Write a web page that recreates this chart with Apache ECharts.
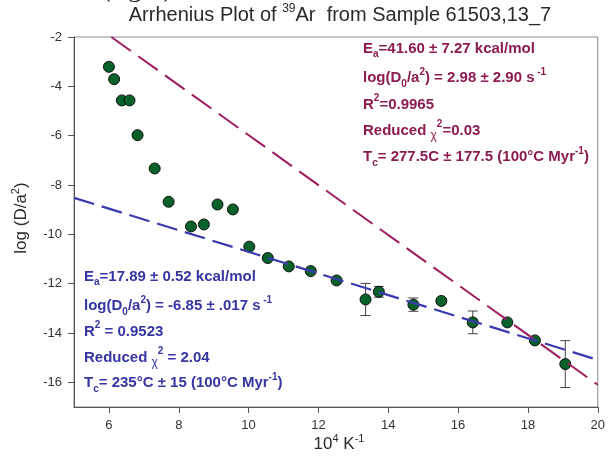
<!DOCTYPE html>
<html><head><meta charset="utf-8">
<script src="https://cdn.jsdelivr.net/npm/echarts@6/dist/echarts.min.js"></script>
<style>html,body{margin:0;padding:0;background:#fff}#c{width:608px;height:456px}</style>
</head><body><div id="c"></div>
<script>
// ---- data ----
const xValues = [6.00, 6.15, 6.37, 6.59, 6.82, 7.31, 7.71, 8.35, 8.72, 9.11, 9.55, 10.02, 10.55, 11.15, 11.78, 12.52, 13.35, 13.73, 14.72, 15.52, 16.42, 17.41, 18.20, 19.07];
const yValues = [-3.21, -3.71, -4.57, -4.57, -5.98, -7.33, -8.68, -9.68, -9.60, -8.79, -8.99, -10.50, -10.96, -11.30, -11.49, -11.87, -12.64, -12.33, -12.85, -12.70, -13.57, -13.57, -14.30, -15.26];
const yErrors = [0, 0, 0, 0, 0, 0, 0, 0, 0, 0, 0, 0, 0, 0, 0, 0, 0.65, 0.22, 0.27, 0.10, 0.46, 0, 0, 0.95];
const highTFitX = [6.07, 20];
const highTFitY = [-2, -16.1];
const lowTFitX = [5, 20];
const lowTFitY = [-8.52, -15.09];
const xTicks = [6, 8, 10, 12, 14, 16, 18, 20];
const yTicks = [-16, -14, -12, -10, -8, -6, -4, -2];
const titleParts = ['Arrhenius Plot of ', '39', 'Ar  from Sample 61503,13_7'];
const maroonLines = [
  '{m|E}{sub|a}{m|=41.60 ± 7.27 kcal/mol}',
  '{m|log(D}{sub|0}{m|/a}{sup|2}{m|) = 2.98 ± 2.90 s}{sup| -1}',
  '{m|R}{sup|2}{m|=0.9965}',
  '{m|Reduced }{chi|χ}{sup|2}{m|=0.03}',
  '{m|T}{sub|c}{m|= 277.5C ± 177.5 (100°C Myr}{sup|-1}{m|)}'
];
const blueLines = [
  '{m|E}{sub|a}{m|=17.89 ± 0.52 kcal/mol}',
  '{m|log(D}{sub|0}{m|/a}{sup|2}{m|) = -6.85 ± .017 s}{sup| -1}',
  '{m|R}{sup|2}{m| = 0.9523}',
  '{m|Reduced }{chi|χ}{sup|2}{m| = 2.04}',
  '{m|T}{sub|c}{m|= 235°C ± 15 (100°C Myr}{sup|-1}{m|)}'
];

// ---- styling ----
const FONT = 'Liberation Sans, Arial, sans-serif';
const MAROON_TXT = '#8C1B50', MAROON_LINE = '#9E1D5E';
const BLUE_TXT = '#3535A3', BLUE_LINE = '#3A3AB0';
const INK = '#2a2a2a';
function richFor(color) {
  return {
    m: {fontFamily: FONT, fontSize: 15, fontWeight: 'bold', fill: color, lineHeight: 22},
    sub: {fontFamily: FONT, fontSize: 10, fontWeight: 'bold', fill: color, lineHeight: 12, verticalAlign: 'bottom'},
    sup: {fontFamily: FONT, fontSize: 10, fontWeight: 'bold', fill: color, lineHeight: 12, verticalAlign: 'top'},
    chi: {fontFamily: FONT, fontSize: 12, fill: color, lineHeight: 14, verticalAlign: 'bottom'}
  };
}
function block(lines, color, x, y0, step) {
  return lines.map((t, i) => ({
    type: 'text', left: x, top: y0 + i * step, silent: true,
    style: {text: t, rich: richFor(color)}
  }));
}

const scatterData = xValues.map((x, i) => [x, yValues[i]]);
const errData = xValues.map((x, i) => [x, yValues[i], yErrors[i]]);

const chart = echarts.init(document.getElementById('c'), null, {renderer: 'canvas'});
chart.setOption({
  animation: false,
  backgroundColor: '#fff',
  grid: {left: 74, right: 9, top: 37, bottom: 49, show: true, borderColor: '#8a8a8a', borderWidth: 1},
  xAxis: {
    type: 'value', min: 5, max: 20,
    axisLine: {show: true, onZero: false, lineStyle: {color: '#555', width: 1}},
    axisTick: {show: true, inside: false, length: 6, customValues: xTicks, lineStyle: {color: '#555'}},
    axisLabel: {customValues: xTicks, margin: 12, fontFamily: FONT, fontSize: 13, color: '#333'},
    splitLine: {show: false}
  },
  yAxis: {
    type: 'value', min: -17, max: -2,
    axisLine: {show: true, onZero: false, lineStyle: {color: '#555', width: 1}},
    axisTick: {show: true, inside: false, length: 6, customValues: yTicks, lineStyle: {color: '#555'}},
    axisLabel: {customValues: yTicks, margin: 12, fontFamily: FONT, fontSize: 13, color: '#333'},
    splitLine: {show: false}
  },
  series: [
    {
      type: 'custom', z: 2, silent: true,
      data: errData,
      renderItem: function (params, api) {
        const x = api.value(0), y = api.value(1), e = api.value(2);
        if (!e) return null;
        const top = api.coord([x, y + e]);
        const bot = api.coord([x, y - e]);
        const st = {stroke: '#444', lineWidth: 1};
        return {type: 'group', children: [
          {type: 'line', shape: {x1: top[0], y1: top[1], x2: bot[0], y2: bot[1]}, style: st},
          {type: 'line', shape: {x1: top[0] - 5, y1: top[1], x2: top[0] + 5, y2: top[1]}, style: st},
          {type: 'line', shape: {x1: bot[0] - 5, y1: bot[1], x2: bot[0] + 5, y2: bot[1]}, style: st}
        ]};
      }
    },
    {
      type: 'scatter', z: 3, symbol: 'circle', symbolSize: 11,
      itemStyle: {color: '#06612A', borderColor: '#111', borderWidth: 1, opacity: 1},
      data: scatterData
    },
    {
      type: 'line', z: 4, symbol: 'none', silent: true,
      lineStyle: {color: MAROON_LINE, width: 2, type: [24, 9]},
      data: highTFitX.map((x, i) => [x, highTFitY[i]])
    },
    {
      type: 'line', z: 4, symbol: 'none', silent: true,
      lineStyle: {color: BLUE_LINE, width: 2.2, type: [21, 8]},
      data: lowTFitX.map((x, i) => [x, lowTFitY[i]])
    }
  ],
  graphic: [
    {type: 'text', x: 137, y: -11, silent: true,
     style: {text: '(right)', fontFamily: 'Liberation Serif, serif', fontSize: 28, fill: '#222', align: 'center', verticalAlign: 'middle'}},
    {type: 'text', x: 340, y: 15, silent: true,
     style: {text: '{t|' + titleParts[0] + '}{s|' + titleParts[1] + '}{t|' + titleParts[2] + '}', align: 'center', verticalAlign: 'middle',
       rich: {t: {fontFamily: FONT, fontSize: 20, fill: INK, lineHeight: 24},
              s: {fontFamily: FONT, fontSize: 12, fill: INK, lineHeight: 14, verticalAlign: 'top'}}}},
    {type: 'text', x: 339, y: 444, silent: true,
     style: {text: '{t|10}{s|4}{t| K}{s|-1}', align: 'center', verticalAlign: 'middle',
       rich: {t: {fontFamily: FONT, fontSize: 17, fill: INK, lineHeight: 22},
              s: {fontFamily: FONT, fontSize: 11, fill: INK, lineHeight: 13, verticalAlign: 'top'}}}},
    {type: 'text', x: 21, y: 218, rotation: Math.PI / 2, silent: true,
     style: {text: '{t|log (D/a}{s|2}{t|)}', align: 'center', verticalAlign: 'middle',
       rich: {t: {fontFamily: FONT, fontSize: 17, fill: INK, lineHeight: 22},
              s: {fontFamily: FONT, fontSize: 11, fill: INK, lineHeight: 13, verticalAlign: 'top'}}}}
  ].concat(block(maroonLines, MAROON_TXT, 363, 41, 26.2))
   .concat(block(blueLines, BLUE_TXT, 84, 269, 25.8))
});
</script>
</body></html>
